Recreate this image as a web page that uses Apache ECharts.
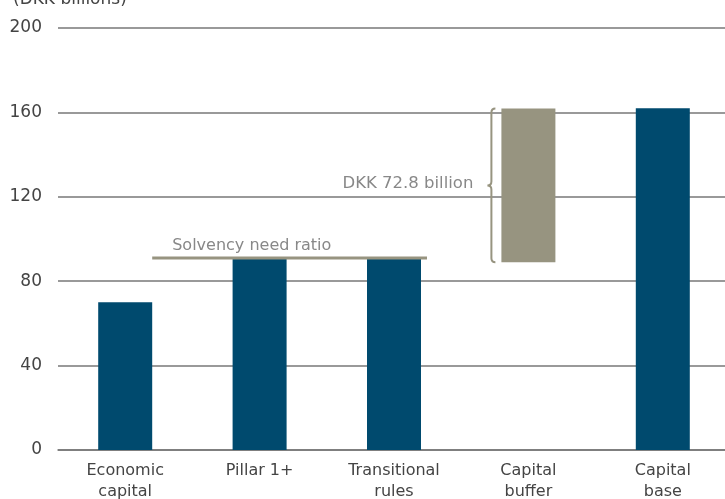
<!DOCTYPE html>
<html><head><meta charset="utf-8">
<script src="https://cdn.jsdelivr.net/npm/echarts@6/dist/echarts.min.js"></script>
<style>html,body{margin:0;padding:0;background:#fff}#c{width:725px;height:499px}</style>
</head><body><div id="c"></div>
<script>
const categories = ['Economic\ncapital', 'Pillar 1+', 'Transitional\nrules', 'Capital\nbuffer', 'Capital\nbase'];
const baseValues = [0, 0, 0, 89, 0];
const barValues = [70, 90.5, 90.5, 72.8, 162];
const solvencyLevel = 91;
const yTicks = [0, 40, 80, 120, 160, 200];
const braceLabel = 'DKK 72.8 billion';
const solvencyLabel = 'Solvency need ratio';

const FONT = 'DejaVu Sans';
const BLUE = '#004a6e';
const GREY = '#979480';

const chart = echarts.init(document.getElementById('c'));
chart.setOption({
  animation: false,
  title: { text: '(DKK billions)', left: 8, top: -14, textStyle: { fontFamily: FONT, fontSize: 17, fontWeight: 'normal', color: '#444' } },
  grid: { left: 58, right: -5, top: 28, bottom: 49, containLabel: false, outerBoundsMode: 'none' },
  xAxis: {
    type: 'category', data: categories,
    axisLine: { show: true, lineStyle: { color: '#777', width: 1.5 } },
    axisTick: { show: false },
    axisLabel: { fontFamily: FONT, fontSize: 16, color: '#444', margin: 10, lineHeight: 21 }
  },
  yAxis: {
    type: 'value', min: yTicks[0], max: yTicks[yTicks.length - 1], interval: 40,
    axisLine: { show: false }, axisTick: { show: false },
    splitLine: { lineStyle: { color: '#777', width: 1.5 } },
    axisLabel: { fontFamily: FONT, fontSize: 17, color: '#444', margin: 16 }
  },
  series: [
    { type: 'bar', stack: 's', data: baseValues, itemStyle: { color: 'transparent' }, barWidth: 54, silent: true },
    { type: 'bar', stack: 's', barWidth: 54,
      data: barValues.map((v, i) => ({ value: v, itemStyle: { color: i === 3 ? GREY : BLUE } })) },
    { type: 'custom', z: 5,
      data: [[0, 2, solvencyLevel]],
      renderItem: function (params, api) {
        const p0 = api.coord([api.value(0), api.value(2)]);
        const p1 = api.coord([api.value(1), api.value(2)]);
        const half = 27;
        const x0 = p0[0] + half, x1 = p1[0] + half + 6, y = p0[1];
        return { type: 'group', children: [
          { type: 'line', shape: { x1: x0, y1: y, x2: x1, y2: y }, style: { stroke: GREY, lineWidth: 3 } },
          { type: 'text', style: { text: solvencyLabel, x: x0 + 20, y: y - 4, textAlign: 'left', textVerticalAlign: 'bottom', font: '16px ' + FONT, fill: '#888' } }
        ]};
      }
    },
    { type: 'custom', z: 5,
      data: [[3, baseValues[3], baseValues[3] + barValues[3]]],
      renderItem: function (params, api) {
        const pb = api.coord([api.value(0), api.value(1)]);
        const pt = api.coord([api.value(0), api.value(2)]);
        const x = pb[0] - 37;
        const yb = pb[1], yt = pt[1];
        const ym = (yb + yt) / 2;
        const r = 4;
        const path = `M ${x + r} ${yt} Q ${x} ${yt} ${x} ${yt + r} L ${x} ${ym - r} Q ${x} ${ym} ${x - r} ${ym} Q ${x} ${ym} ${x} ${ym + r} L ${x} ${yb - r} Q ${x} ${yb} ${x + r} ${yb}`;
        return { type: 'group', children: [
          { type: 'path', shape: { pathData: path }, style: { stroke: GREY, lineWidth: 2, fill: null } },
          { type: 'text', style: { text: braceLabel, x: x - 18, y: ym - 2, textAlign: 'right', textVerticalAlign: 'middle', font: '16.5px ' + FONT, fill: '#888' } }
        ]};
      }
    }
  ]
});
</script></body></html>
